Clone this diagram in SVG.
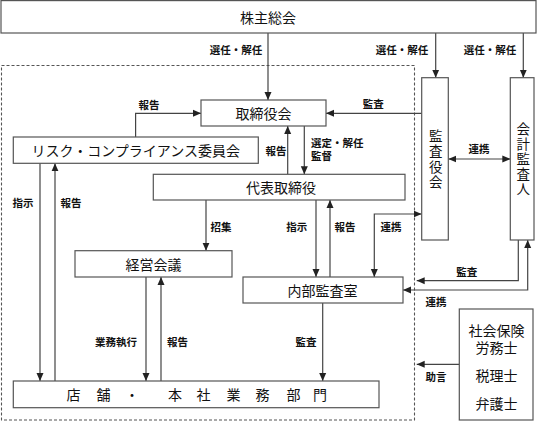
<svg xmlns="http://www.w3.org/2000/svg" width="537" height="421" viewBox="0 0 537 421">
<defs>
<marker id="ah" viewBox="0 0 8 8" refX="8" refY="4" markerWidth="8" markerHeight="8" markerUnits="userSpaceOnUse" orient="auto-start-reverse">
<path d="M0,0.5 L8,4 L0,7.5 Z" fill="#222"/>
</marker>
</defs>
<style>
.box{fill:#fff;stroke:#555;stroke-width:1.2}
.t{font-family:"Noto Sans CJK JP","Noto Sans CJK SC",sans-serif;font-size:14px;fill:#111;text-anchor:middle;dominant-baseline:central}
.v{font-family:"Noto Sans CJK JP","Noto Sans CJK SC",sans-serif;font-size:13.5px;fill:#111;text-anchor:middle;dominant-baseline:central;writing-mode:vertical-rl}
.l{font-family:"Noto Sans CJK JP","Noto Sans CJK SC",sans-serif;font-size:10.5px;fill:#111;text-anchor:middle;dominant-baseline:central;font-weight:bold}
.c{fill:none;stroke:#444;stroke-width:1.2}
.a{marker-end:url(#ah)}
.b{marker-start:url(#ah);marker-end:url(#ah)}
.dash{fill:none;stroke:#555;stroke-width:1.1;stroke-dasharray:3,2}
</style>
<rect class="dash" x="1.5" y="65.5" width="413" height="354.5"/>
<g id="connectors">
<path class="c a" d="M268,33 V100"/>
<path class="c a" d="M435.7,33 V77.7"/>
<path class="c a" d="M523.3,33 V77.7"/>
<path class="c a" d="M135.6,137 V113.3 H201"/>
<path class="c a" d="M421.7,113.3 H326"/>
<path class="c a" d="M287.7,174.3 V126"/>
<path class="c a" d="M304.3,126 V174.3"/>
<path class="c b" d="M448.3,159 H510.3"/>
<path class="c a" d="M40,163.3 V381"/>
<path class="c a" d="M55,381 V163.3"/>
<path class="c a" d="M206,200 V250.7"/>
<path class="c a" d="M316,200 V277"/>
<path class="c a" d="M330,277 V200"/>
<path class="c b" d="M374.3,277 V214 H421.7"/>
<path class="c a" d="M518.3,240 V280.7 H416.7"/>
<path class="c b" d="M527.7,240 V290 H403"/>
<path class="c a" d="M146,277 V381"/>
<path class="c a" d="M161,381 V277"/>
<path class="c a" d="M322.7,303 V381"/>
<path class="c a" d="M459.3,364.3 H416.7"/>
</g>
<g id="labels">
<text class="l" x="236" y="49.5">選任・解任</text>
<text class="l" x="402" y="49.5">選任・解任</text>
<text class="l" x="490" y="49.5">選任・解任</text>
<text class="l" x="149" y="104">報告</text>
<text class="l" x="373.3" y="103.3">監査</text>
<text class="l" x="276" y="150.7">報告</text>
<text class="l" style="text-anchor:start"><tspan x="311" y="141.7">選定・解任</tspan><tspan x="311" y="155">監督</tspan></text>
<text class="l" x="479" y="148.5">連携</text>
<text class="l" x="23" y="202.7">指示</text>
<text class="l" x="71" y="202.7">報告</text>
<text class="l" x="221" y="226.7">招集</text>
<text class="l" x="296.7" y="226.7">指示</text>
<text class="l" x="345" y="226.7">報告</text>
<text class="l" x="391" y="226.7">連携</text>
<text class="l" x="466.7" y="271.7">監査</text>
<text class="l" x="436" y="301.7">連携</text>
<text class="l" x="116" y="341.7">業務執行</text>
<text class="l" x="177.5" y="341.7">報告</text>
<text class="l" x="306" y="341.7">監査</text>
<text class="l" x="436" y="376.7">助言</text>
</g>
<g id="n-shareholders">
<rect class="box" x="1" y="0.6" width="535" height="32.4"/>
<text class="t" x="268" y="17">株主総会</text>
</g>
<g id="n-board">
<rect class="box" x="201" y="100" width="125" height="26"/>
<text class="t" x="263.5" y="113">取締役会</text>
</g>
<g id="n-risk">
<rect class="box" x="13.3" y="137" width="245" height="26.3"/>
<text class="t" x="135.8" y="150">リスク・コンプライアンス委員会</text>
</g>
<g id="n-president">
<rect class="box" x="153.3" y="174.3" width="251.7" height="25.7"/>
<text class="t" x="281" y="187">代表取締役</text>
</g>
<g id="n-mgmt">
<rect class="box" x="75" y="250.7" width="157" height="26.3"/>
<text class="t" x="153.5" y="264">経営会議</text>
</g>
<g id="n-internal-audit">
<rect class="box" x="243" y="277" width="160" height="26"/>
<text class="t" x="322.5" y="290">内部監査室</text>
</g>
<g id="n-stores">
<rect class="box" x="13.3" y="381" width="365.7" height="26.7"/>
<text class="t" x="73.5" y="394">店</text>
<text class="t" x="103.5" y="394">舗</text>
<text class="t" x="132" y="394">・</text>
<text class="t" x="175" y="394">本</text>
<text class="t" x="203.5" y="394">社</text>
<text class="t" x="233.5" y="394">業</text>
<text class="t" x="262.5" y="394">務</text>
<text class="t" x="293.5" y="394">部</text>
<text class="t" x="320" y="394">門</text>
</g>
<g id="n-auditors">
<rect class="box" x="421.7" y="77.7" width="26.6" height="162.3"/>
<text class="v" x="435.7" y="160" letter-spacing="2">監査役会</text>
</g>
<g id="n-accounting-auditor">
<rect class="box" x="510.3" y="77.7" width="23.7" height="162.3"/>
<text class="v" x="523.3" y="159.5" letter-spacing="1.5">会計監査人</text>
</g>
<g id="n-experts">
<rect class="box" x="459.3" y="309" width="73.7" height="111"/>
<text class="t"><tspan x="496.5" y="330">社会保険</tspan><tspan x="496.5" y="346.7">労務士</tspan></text>
<text class="t" x="496.5" y="375">税理士</text>
<text class="t" x="496.5" y="403.3">弁護士</text>
</g>
</svg>
